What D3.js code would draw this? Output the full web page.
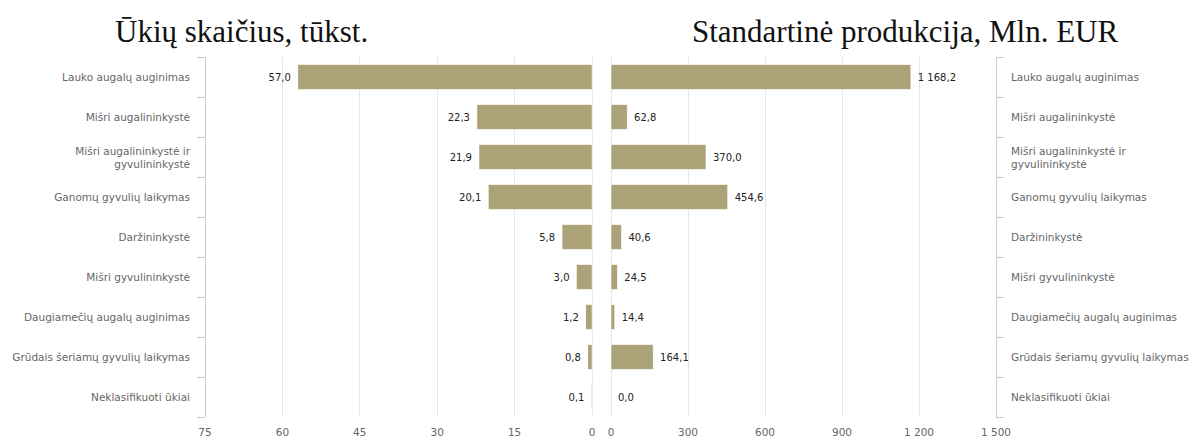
<!DOCTYPE html>
<html>
<head>
<meta charset="utf-8">
<script src="https://cdn.jsdelivr.net/npm/d3@7"></script>
<style>
body { margin: 0; background: #fff; }
</style>
</head>
<body>
<div id="chart"></div>
<script>
var categories = ["Lauko augalų auginimas", "Mišri augalininkystė", "Mišri augalininkystė ir gyvulininkystė",
    "Ganomų gyvulių laikymas", "Daržininkystė", "Mišri gyvulininkystė",
    "Daugiamečių augalų auginimas", "Grūdais šeriamų gyvulių laikymas", "Neklasifikuoti ūkiai"]
var farms = [57.0, 22.3, 21.9, 20.1, 5.8, 3.0, 1.2, 0.8, 0.1]
var output = [1168.2, 62.8, 370.0, 454.6, 40.6, 24.5, 14.4, 164.1, 0.0]
var leftTicks = [75, 60, 45, 30, 15, 0]
var rightTicks = [0, 300, 600, 900, 1200, 1500]
var titles = ["Ūkių skaičius, tūkst.", "Standartinė produkcija, Mln. EUR"]

// wrapped label lines
var labelLines = {
    "Mišri augalininkystė ir gyvulininkystė": ["Mišri augalininkystė ir", "gyvulininkystė"]
}

var width = 1190, height = 438
var plotTop = 57, plotBottom = 417
var barColor = "#aca277"
var lt = d3.formatLocale({decimal: ",", thousands: "\u00a0", grouping: [3], currency: ["", ""]})
var fmtVal = lt.format(",.1f")
var fmtTick = lt.format(",")

var svg = d3.select("#chart").append("svg")
    .attr("width", width)
    .attr("height", height)

var y = d3.scaleBand()
    .domain(categories)
    .range([plotTop, plotBottom])
    .paddingInner(0.38)
    .paddingOuter(0.19)
var band = d3.scaleBand().domain(categories).range([plotTop, plotBottom])

var xl = d3.scaleLinear().domain([75, 0]).range([205, 592])
var xr = d3.scaleLinear().domain([0, 1500]).range([611, 996])

// titles
svg.selectAll(".title")
    .data(titles)
    .join("text")
    .attr("x", (d, i) => i == 0 ? 115 : 692)
    .attr("y", 42)
    .style("font-family", "'Liberation Serif', 'Times New Roman', serif")
    .style("font-size", "31px")
    .attr("fill", "#111")
    .text(d => d)

function gridAndTicks(x, ticks, cls) {
    svg.selectAll(".grid" + cls)
        .data(ticks)
        .join("line")
        .attr("class", "grid" + cls)
        .attr("x1", d => x(d)).attr("x2", d => x(d))
        .attr("y1", plotTop).attr("y2", plotBottom)
        .attr("stroke", "#e6e6e6")
        .attr("stroke-width", 1)
        .attr("shape-rendering", "crispEdges")

    svg.selectAll(".tick" + cls)
        .data(ticks)
        .join("text")
        .attr("class", "tick" + cls)
        .attr("x", d => x(d))
        .attr("y", 436)
        .attr("text-anchor", "middle")
        .style("font-family", "'DejaVu Sans', sans-serif")
        .style("font-size", "10.5px")
        .attr("fill", "#666")
        .text(d => fmtTick(d))
}
gridAndTicks(xl, leftTicks, "l")
gridAndTicks(xr, rightTicks, "r")

// category axes: left one on the 75 line, right one on the 1500 line
function catAxis(xpos, dir) {
    var g = svg.append("g")
    g.append("line")
        .attr("x1", xpos).attr("x2", xpos)
        .attr("y1", plotTop).attr("y2", plotBottom)
        .attr("stroke", "#cccccc")
        .attr("shape-rendering", "crispEdges")
    var edges = categories.map(c => band(c)).concat([plotBottom])
    g.selectAll("line.t")
        .data(edges)
        .join("line")
        .attr("class", "t")
        .attr("x1", xpos).attr("x2", xpos + dir * 8)
        .attr("y1", d => d).attr("y2", d => d)
        .attr("stroke", "#cccccc")
        .attr("shape-rendering", "crispEdges")
    var lab = g.selectAll("text.c")
        .data(categories)
        .join("text")
        .attr("class", "c")
        .attr("text-anchor", dir < 0 ? "end" : "start")
        .style("font-family", "'DejaVu Sans', sans-serif")
        .style("font-size", "10.5px")
        .attr("fill", "#666")
    lab.each(function(d) {
        var lines = labelLines[d] || [d]
        var cy = band(d) + band.bandwidth() / 2
        var t = d3.select(this)
        lines.forEach((l, i) => {
            t.append("tspan")
                .attr("x", xpos + dir * 15)
                .attr("y", cy + 4 + (i - (lines.length - 1) / 2) * 13)
                .text(l)
        })
    })
}
catAxis(205, -1)
catAxis(996, 1)

// bars
svg.selectAll(".barl")
    .data(farms)
    .join("rect")
    .attr("class", "barl")
    .attr("x", d => xl(d))
    .attr("y", (d, i) => y(categories[i]))
    .attr("width", d => xl(0) - xl(d))
    .attr("height", y.bandwidth())
    .attr("fill", barColor)
    .attr("stroke", "#fff")
    .attr("stroke-width", 0.5)

svg.selectAll(".barr")
    .data(output)
    .join("rect")
    .attr("class", "barr")
    .attr("x", xr(0))
    .attr("y", (d, i) => y(categories[i]))
    .attr("width", d => xr(d) - xr(0))
    .attr("height", y.bandwidth())
    .attr("fill", barColor)
    .attr("stroke", "#fff")
    .attr("stroke-width", 0.5)

// value labels
svg.selectAll(".vall")
    .data(farms)
    .join("text")
    .attr("class", "vall")
    .attr("x", d => xl(d) - 7)
    .attr("y", (d, i) => band(categories[i]) + band.bandwidth() / 2 + 4)
    .attr("text-anchor", "end")
    .style("font-family", "'DejaVu Sans', sans-serif")
    .style("font-size", "10px")
    .attr("fill", "#222")
    .text(d => fmtVal(d))

svg.selectAll(".valr")
    .data(output)
    .join("text")
    .attr("class", "valr")
    .attr("x", d => xr(d) + 7)
    .attr("y", (d, i) => band(categories[i]) + band.bandwidth() / 2 + 4)
    .style("font-family", "'DejaVu Sans', sans-serif")
    .style("font-size", "10px")
    .attr("fill", "#222")
    .text(d => fmtVal(d))
</script>
</body>
</html>
